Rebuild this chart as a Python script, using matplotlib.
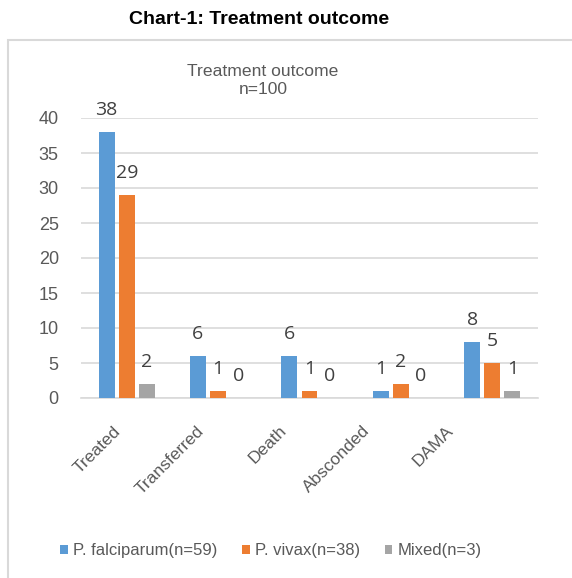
import matplotlib
matplotlib.use("Agg")
import matplotlib.pyplot as plt
from matplotlib.patches import Rectangle
from matplotlib.transforms import ScaledTranslation
import numpy as np

categories = ["Treated", "Transferred", "Death", "Absconded", "DAMA"]
series_names = ["P. falciparum(n=59)", "P. vivax(n=38)", "Mixed(n=3)"]
falciparum = [38, 6, 6, 1, 8]
vivax = [29, 1, 1, 2, 5]
mixed = [2, 0, 0, 0, 1]
colors = ["#5B9BD5", "#ED7D31", "#A5A5A5"]
yticks = [0, 5, 10, 15, 20, 25, 30, 35, 40]

W, H = 572, 578
fig = plt.figure(figsize=(W / 100, H / 100), dpi=100)
fig.patch.set_facecolor("white")

# chart border
fig.patches.append(Rectangle((8 / W, -0.1), 1.2, 1.1 - 40 / H, transform=fig.transFigure,
                             fill=False, edgecolor="#D9D9D9", linewidth=1.5))

fig.text(259 / W, 1 - 20 / H, "Chart-1: Treatment outcome", ha="center", va="center",
         fontsize=14, fontweight="bold", family="Liberation Sans", color="black")
fig.text(263 / W, 1 - 71 / H, "Treatment outcome", ha="center", va="center",
         fontsize=12.6, family="Liberation Sans", color="#595959")
fig.text(263 / W, 1 - 89 / H, "n=100", ha="center", va="center",
         fontsize=12.6, family="Liberation Sans", color="#595959")

left, right = 81 / W, 538 / W
bottom, top = 1 - 398 / H, 1 - 118 / H
ax = fig.add_axes([left, bottom, right - left, top - bottom])

x = np.arange(len(categories))
offsets = [-0.22, 0.0, 0.22]
width = 0.175
data = [falciparum, vivax, mixed]
for vals, off, col, name in zip(data, offsets, colors, series_names):
    ax.bar(x + off, vals, width=width, color=col, label=name, zorder=3)
    for xi, v in zip(x + off, vals):
        ax.annotate(str(v), (xi, v), xytext=(0, 12), textcoords="offset points",
                    ha="center", va="baseline", fontsize=14, family="Open Sans",
                    color="#404040", annotation_clip=False)

ax.set_xlim(-0.5, len(categories) - 0.5)
ax.set_ylim(0, 40)
ax.set_yticks(yticks)
ax.set_yticklabels([str(t) for t in yticks], family="Liberation Sans", fontsize=13,
                   color="#595959")
ax.set_xticks(x)
ax.set_xticklabels(categories, rotation=45, ha="right", rotation_mode="anchor",
                   family="Liberation Sans", fontsize=12.5, color="#595959")
ax.tick_params(axis="both", length=0)
ax.tick_params(axis="y", pad=16)
ax.tick_params(axis="x", pad=16)
# Excel-like label placement: rotated labels drift left of their categories
for i, lab in enumerate(ax.get_xticklabels()):
    dx_px = -(14 + 8.2 * i)
    lab.set_transform(lab.get_transform() +
                      ScaledTranslation(dx_px / 100, -3 / 100, fig.dpi_scale_trans))
ax.grid(axis="y", color="#D9D9D9", linewidth=1.2, zorder=0)
ax.set_axisbelow(True)
for s in ["top", "right", "left"]:
    ax.spines[s].set_visible(False)
ax.spines["bottom"].set_color("#D9D9D9")
ax.spines["bottom"].set_linewidth(1.2)
ax.patch.set_visible(False)

handles, labels = ax.get_legend_handles_labels()
leg = fig.legend(handles, labels, loc="center", bbox_to_anchor=(271 / W, 1 - 551 / H),
                 ncol=3, frameon=False, handlelength=0.45, handleheight=0.45,
                 handletextpad=0.3, columnspacing=1.5,
                 prop={"family": "Liberation Sans", "size": 12})
for t in leg.get_texts():
    t.set_color("#595959")

fig.savefig("out.png", dpi=100)
